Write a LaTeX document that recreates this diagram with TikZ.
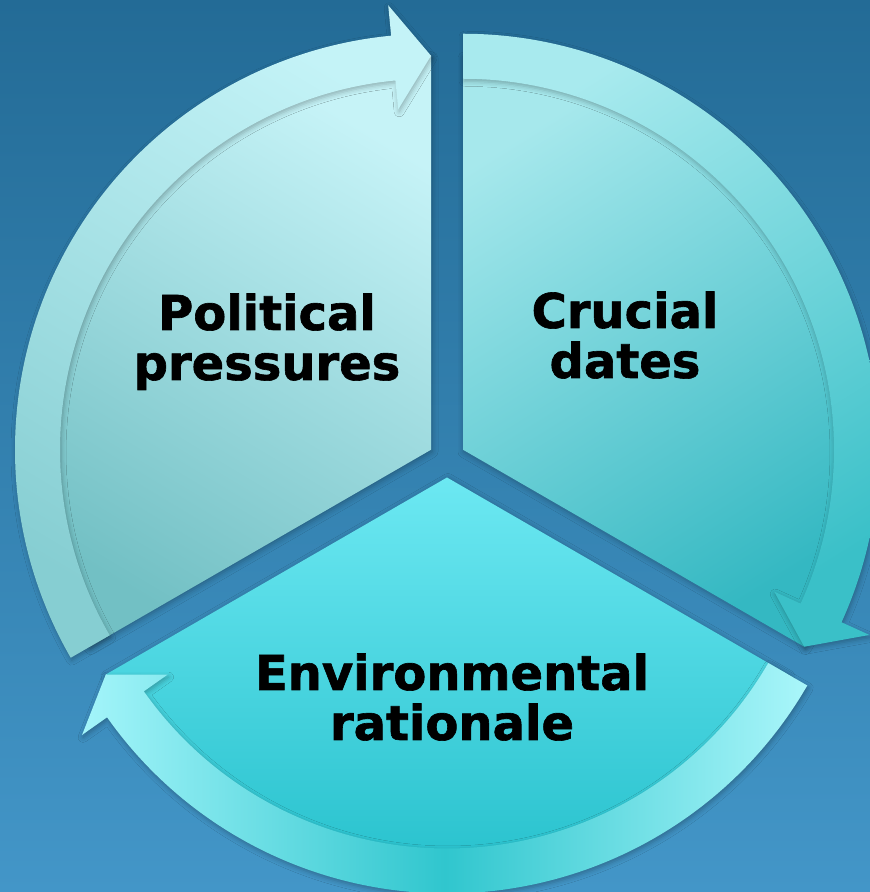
\documentclass[tikz,border=0pt]{standalone}
\usepackage{fontspec}
\setmainfont{DejaVu Sans}
\newfontfamily\lblfont{DejaVu Sans}[BoldFeatures={FakeBold=1.3}]
\usetikzlibrary{shadows.blur}
\definecolor{bgtop}{HTML}{236B96}
\definecolor{bgbot}{HTML}{4396C8}
\definecolor{Lbodytop}{HTML}{C6F3F7}
\definecolor{Lbodybot}{HTML}{72C0C4}
\definecolor{Lbandtop}{HTML}{C4F3F7}
\definecolor{Lbandbot}{HTML}{86CED2}
\definecolor{Rbodytop}{HTML}{A6E8EC}
\definecolor{Rbodybot}{HTML}{34B8C2}
\definecolor{Rbandtop}{HTML}{A8EAEE}
\definecolor{Rbandbot}{HTML}{3AC0C8}
\definecolor{Bbodytop}{HTML}{6CE8F2}
\definecolor{Bbodybot}{HTML}{1EBCC8}
\definecolor{Bbandl}{HTML}{A4F5FA}
\definecolor{Bbandm}{HTML}{30C6CE}
\definecolor{Bbandr}{HTML}{AAF6FA}
\tikzset{
  wedgeshadow/.style={blur shadow={shadow xshift=1pt, shadow yshift=-2pt, shadow blur radius=6pt, shadow opacity=30}},
  bandshadow/.style={blur shadow={shadow xshift=1pt, shadow yshift=-2.5pt, shadow blur radius=5pt, shadow opacity=28}},
  lbl/.style={anchor=base, inner sep=0pt, text=black, font=\lblfont\fontsize{48}{51}\selectfont\bfseries}
}
\begin{document}
\begin{tikzpicture}[x=1pt, y=1pt]
\useasboundingbox (0,0) rectangle (870,892);
\clip (0,0) rectangle (870,892);
\shade[top color=bgtop, bottom color=bgbot] (0,0) rectangle (870,892);

% bottom wedge
\begin{scope}[shift={(447,414.5)}]
  \shade[wedgeshadow, top color=Bbodytop, bottom color=Bbodybot]
    (0,0) -- (-30:394) arc[start angle=-30, end angle=-150, radius=394] -- cycle;
  \shade[bandshadow, left color=Bbandl, right color=Bbandr, middle color=Bbandm]
    (-30:371) -- (-30:416) arc[start angle=-30, end angle=-144.8, radius=416]
    -- (-144.8:446.6) -- (-150:394) -- (-144.8:342) -- (-144.8:371)
    arc[start angle=-144.8, end angle=-30, radius=371] -- cycle;
\end{scope}

% left wedge
\begin{scope}[shift={(431,442.25)}]
  \shade[wedgeshadow, top color=Lbodytop, bottom color=Lbodybot, shading angle=-31]
    (0,0) -- (90:394) arc[start angle=90, end angle=210, radius=394] -- cycle;
  \shade[bandshadow, top color=Lbandtop, bottom color=Lbandbot, shading angle=-31]
    (210:371) -- (210:416) arc[start angle=210, end angle=95.5, radius=416]
    -- (95.5:446.6) -- (90:394) -- (95.5:342) -- (95.5:371)
    arc[start angle=95.5, end angle=210, radius=371] -- cycle;
\end{scope}

% right wedge
\begin{scope}[shift={(463,442.25)}]
  \shade[wedgeshadow, top color=Rbodytop, bottom color=Rbodybot, shading angle=32]
    (0,0) -- (90:394) arc[start angle=90, end angle=-30, radius=394] -- cycle;
  \shade[bandshadow, top color=Rbandtop, bottom color=Rbandbot, shading angle=32]
    (90:371) -- (90:416) arc[start angle=90, end angle=-24.5, radius=416]
    -- (-24.5:446.6) -- (-30:394) -- (-24.5:342) -- (-24.5:371)
    arc[start angle=-24.5, end angle=90, radius=371] -- cycle;
\end{scope}

\node[lbl] (polA) at (267,562) {Political};
\node[lbl] (polB) at (267,512) {pressures};
\node[lbl] (cruA) at (625,564) {Crucial};
\node[lbl] (cruB) at (625,514) {dates};
\node[lbl] (envA) at (452,202) {Environmental};
\node[lbl] (envB) at (452,152) {rationale};
\end{tikzpicture}
\end{document}
